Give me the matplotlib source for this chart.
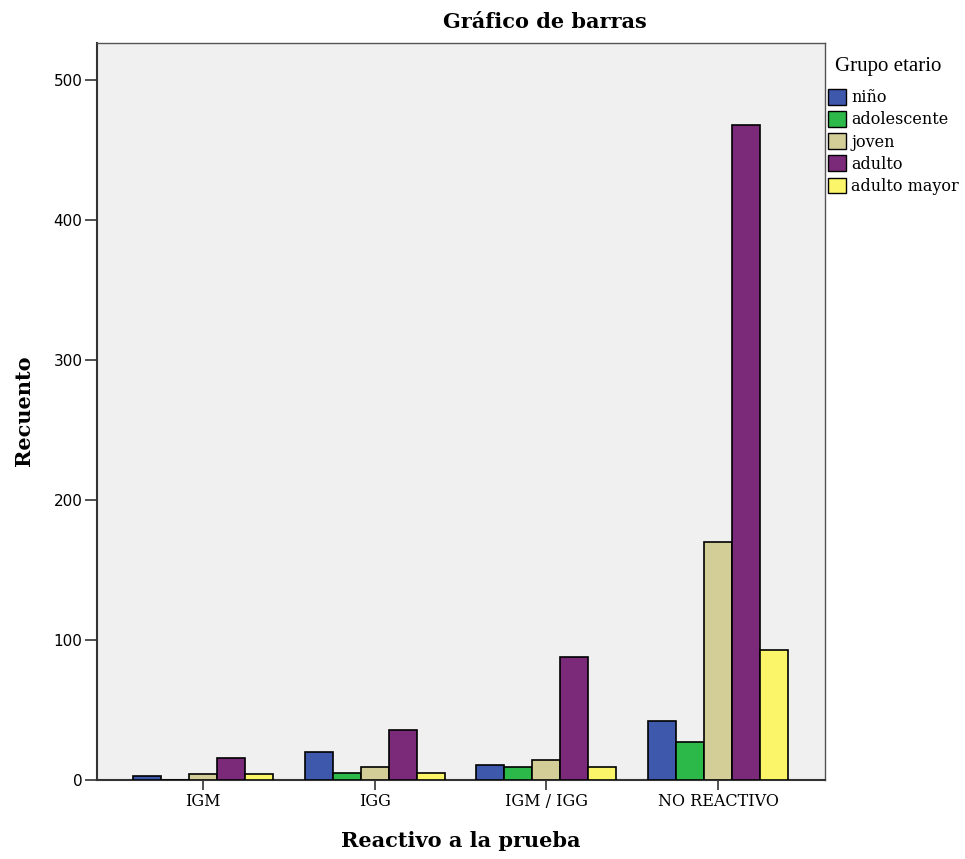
import matplotlib
matplotlib.use("Agg")
import matplotlib.pyplot as plt
import numpy as np
from matplotlib.patches import Patch

categories = ["IGM", "IGG", "IGM / IGG", "NO REACTIVO"]
groups = ["niño", "adolescente", "joven", "adulto", "adulto mayor"]
nino = [3, 20, 11, 42]
adolescente = [0, 5, 9, 27]
joven = [4, 9, 14, 170]
adulto = [16, 36, 88, 468]
adulto_mayor = [4, 5, 9, 93]
colors = ["#3e58ac", "#2db84a", "#d3ce97", "#7b2a7a", "#fbf569"]
y_ticks = [0, 100, 200, 300, 400, 500]

series = [nino, adolescente, joven, adulto, adulto_mayor]

W, H = 965, 859
fig = plt.figure(figsize=(W / 100, H / 100), dpi=100)
ax = fig.add_axes([97 / W, (H - 780) / H, (825 - 97) / W, (780 - 43) / H])
ax.set_facecolor("#f0f0f0")

x = np.arange(len(categories))
bw = 0.163
for i, (vals, c) in enumerate(zip(series, colors)):
    ax.bar(x + (i - 2) * bw, vals, width=bw, color=c, edgecolor="black",
           linewidth=1.2, label=groups[i], zorder=3)

ax.set_xlim(-0.617, 3.623)
ax.set_ylim(0, 526.4)
ax.set_xticks(x)
ax.set_xticklabels(categories, fontfamily="DejaVu Serif", fontsize=11.5)
ax.set_yticks(y_ticks)
ax.set_yticklabels([str(v) for v in y_ticks], fontfamily="DejaVu Sans", fontsize=11)
ax.tick_params(axis="y", length=9, width=1.2, color="#333333", pad=1.5)
ax.tick_params(axis="x", length=7, width=1.2, color="#333333", pad=2)

for s in ["left", "bottom"]:
    ax.spines[s].set_color("#333333")
    ax.spines[s].set_linewidth(1.5)
for s in ["top", "right"]:
    ax.spines[s].set_color("#555555")
    ax.spines[s].set_linewidth(1.0)

fig.text(545 / W, 1 - 22 / H, "Gráfico de barras", ha="center", va="center",
         fontfamily="DejaVu Serif", fontweight="bold", fontsize=15)
fig.text(461 / W, 1 - 841 / H, "Reactivo a la prueba", ha="center", va="center",
         fontfamily="DejaVu Serif", fontweight="bold", fontsize=15)
fig.text(24 / W, 1 - 411 / H, "Recuento", ha="center", va="center", rotation=90,
         fontfamily="DejaVu Serif", fontweight="bold", fontsize=15)

fig.text(835 / W, 1 - 67 / H, "Grupo etario", ha="left", va="center",
         fontfamily="Liberation Serif", fontsize=15)

handles = [Patch(facecolor=c, edgecolor="black", linewidth=1.0) for c in colors]
leg = fig.legend(handles, groups, loc="upper left", bbox_to_anchor=(828 / W, 1 - 89 / H),
                 frameon=False,
                 prop={"family": "DejaVu Serif", "size": 11.5},
                 handlelength=1.15, handleheight=1.15, handletextpad=0.3,
                 labelspacing=0.3, borderaxespad=0, borderpad=0)

fig.savefig("out.png", dpi=100, facecolor="white")
